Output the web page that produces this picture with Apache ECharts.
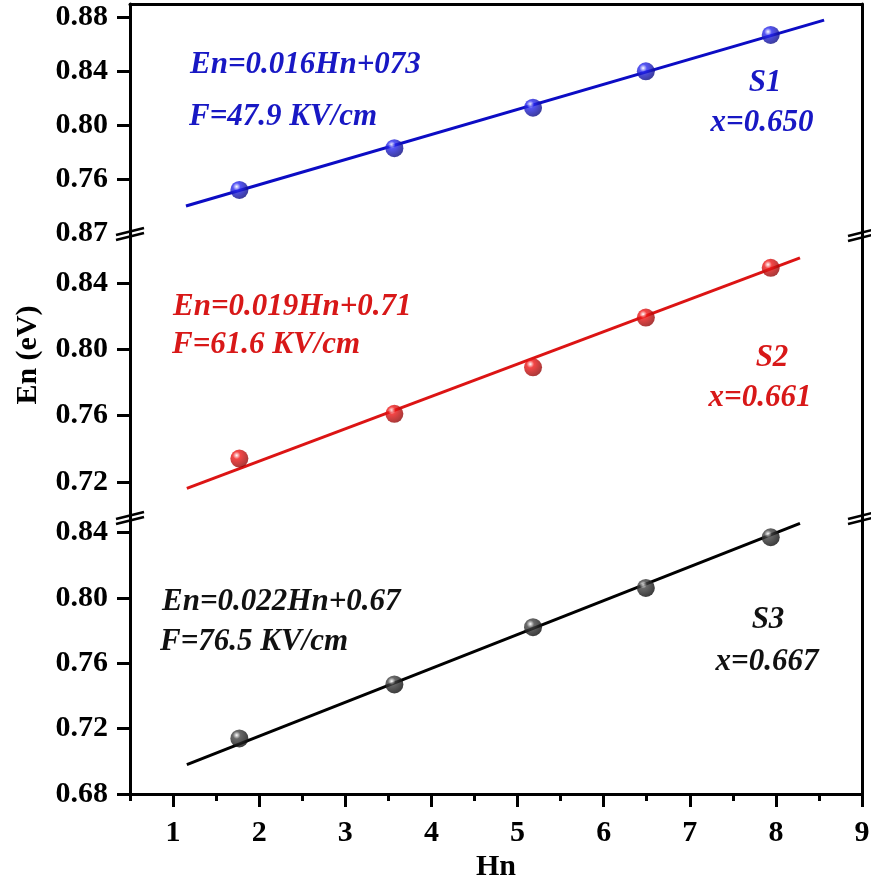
<!DOCTYPE html>
<html>
<head>
<meta charset="utf-8">
<script src="https://cdn.jsdelivr.net/npm/echarts@6/dist/echarts.min.js"></script>
<style>
html,body{margin:0;padding:0;background:#fff;}
#chart{width:871px;height:883px;}
</style>
</head>
<body>
<div id="chart"></div>
<script>
// ---------- data ----------
const xTicks = [1, 2, 3, 4, 5, 6, 7, 8, 9];
const xMinorTicks = [0.5, 1.5, 2.5, 3.5, 4.5, 5.5, 6.5, 7.5, 8.5];
const hn = [1.77, 3.57, 5.18, 6.49, 7.94];

const s1En = [0.752, 0.783, 0.813, 0.840, 0.867];
const s2En = [0.734, 0.761, 0.789, 0.819, 0.849];
const s3En = [0.714, 0.747, 0.782, 0.806, 0.837];

const s1FitX = [1.15, 8.56];
const s1FitY = [0.740, 0.878];
const s2FitX = [1.16, 8.28];
const s2FitY = [0.716, 0.855];
const s3FitX = [1.16, 8.28];
const s3FitY = [0.698, 0.8455];

const y1Range = [0.72, 0.89];
const y2Range = [0.70, 0.87];
const y3Range = [0.68, 0.85];
const y1Ticks = [0.76, 0.80, 0.84, 0.88];
const y2Ticks = [0.72, 0.76, 0.80, 0.84];
const y2Labels = [0.72, 0.76, 0.80, 0.84, 0.87];
const y3Ticks = [0.68, 0.72, 0.76, 0.80, 0.84];

const notes = [
  {text: 'En=0.016Hn+073', color: '#1818c4'},
  {text: 'F=47.9 KV/cm', color: '#1818c4'},
  {text: 'S1', color: '#1818c4'},
  {text: 'x=0.650', color: '#1818c4'},
  {text: 'En=0.019Hn+0.71', color: '#d81818'},
  {text: 'F=61.6 KV/cm', color: '#d81818'},
  {text: 'S2', color: '#d81818'},
  {text: 'x=0.661', color: '#d81818'},
  {text: 'En=0.022Hn+0.67', color: '#111111'},
  {text: 'F=76.5 KV/cm', color: '#111111'},
  {text: 'S3', color: '#111111'},
  {text: 'x=0.667', color: '#111111'}
];

// ---------- layout / style ----------
const FONT = '"Liberation Serif", "Times New Roman", serif';
const L = 130, R = 9;
const grids = [
  {left: L, right: R, top: 4, height: 229, outerBoundsMode: 'none'},
  {left: L, right: R, top: 233, height: 282, outerBoundsMode: 'none'},
  {left: L, right: R, top: 516, height: 278, outerBoundsMode: 'none'}
];
const noteLayout = [
  [190, 65, 'left'], [189, 117, 'left'], [765, 83, 'center'], [762, 123, 'center'],
  [173, 307, 'left'], [172, 345, 'left'], [772, 358, 'center'], [760, 398, 'center'],
  [162, 602, 'left'], [160, 642, 'left'], [768, 620, 'center'], [767, 662, 'center']
];

const axisLineStyle = {color: '#000', width: 3};
const labelStyle = {color: '#000', fontFamily: FONT, fontWeight: 'bold', fontSize: 30};
const fmt = v => Number(v).toFixed(2);

function leftY(gi, range, ticks, labels) {
  return {
    type: 'value', gridIndex: gi, position: 'left', min: range[0], max: range[1],
    axisLine: {show: true, onZero: false, lineStyle: axisLineStyle},
    axisTick: {show: true, inside: false, length: 13, lineStyle: {color: '#000', width: 3}, customValues: ticks},
    axisLabel: Object.assign({show: true, margin: 22, formatter: fmt, customValues: labels || ticks}, labelStyle),
    splitLine: {show: false}
  };
}
function rightY(gi, range) {
  return {
    type: 'value', gridIndex: gi, position: 'right', min: range[0], max: range[1],
    axisLine: {show: true, onZero: false, lineStyle: axisLineStyle},
    axisTick: {show: false}, axisLabel: {show: false}, splitLine: {show: false}
  };
}
function sphere(base, dark) {
  return {
    type: 'radial', x: 0.35, y: 0.32, r: 0.75,
    colorStops: [
      {offset: 0, color: '#ffffff'},
      {offset: 0.28, color: base},
      {offset: 1, color: dark}
    ]
  };
}
function pairs(xs, ys) { return xs.map((x, i) => [x, ys[i]]); }

function breakMark(cx, cy) {
  return {
    type: 'group', x: cx, y: cy, z: 100,
    children: [
      {type: 'polygon', shape: {points: [[-14, 0], [14, -7], [14, -2], [-14, 5]]}, style: {fill: '#fff'}},
      {type: 'line', shape: {x1: -14, y1: 0, x2: 14, y2: -7}, style: {stroke: '#000', lineWidth: 2.5}},
      {type: 'line', shape: {x1: -14, y1: 5, x2: 14, y2: -2}, style: {stroke: '#000', lineWidth: 2.5}}
    ]
  };
}

const graphics = notes.map((n, i) => ({
  type: 'text', x: noteLayout[i][0], y: noteLayout[i][1], z: 50,
  style: {
    text: n.text, fill: n.color, align: noteLayout[i][2], verticalAlign: 'middle',
    font: 'italic bold 31px ' + FONT
  }
}));
graphics.push({
  type: 'text', x: 28, y: 355, rotation: Math.PI / 2, z: 50,
  style: {text: 'En (eV)', fill: '#000', align: 'center', verticalAlign: 'middle', font: 'bold 30px ' + FONT}
});
graphics.push(breakMark(L, 235), breakMark(871 - R, 236), breakMark(L, 519), breakMark(871 - R, 519));

const option = {
  animation: false,
  backgroundColor: '#fff',
  grid: grids,
  xAxis: [
    {type: 'value', gridIndex: 0, position: 'top', min: 0.5, max: 9,
     axisLine: {show: true, onZero: false, lineStyle: axisLineStyle},
     axisTick: {show: false}, axisLabel: {show: false}, splitLine: {show: false}},
    {type: 'value', gridIndex: 1, min: 0.5, max: 9, show: false, axisLine: {onZero: false}, splitLine: {show: false}},
    {type: 'value', gridIndex: 2, position: 'bottom', min: 0.5, max: 9,
     axisLine: {show: true, onZero: false, lineStyle: axisLineStyle},
     axisTick: {show: true, inside: false, length: 13, lineStyle: {color: '#000', width: 3}, customValues: xTicks},
     axisLabel: Object.assign({show: true, margin: 24, customValues: xTicks}, labelStyle),
     splitLine: {show: false},
     name: 'Hn', nameLocation: 'middle', nameGap: 58,
     nameTextStyle: {color: '#000', fontFamily: FONT, fontWeight: 'bold', fontSize: 30}},
    {type: 'value', gridIndex: 2, position: 'bottom', min: 0.5, max: 9,
     axisLine: {show: false, onZero: false},
     axisTick: {show: true, inside: false, length: 7, lineStyle: {color: '#000', width: 3}, customValues: xMinorTicks},
     axisLabel: {show: false}, splitLine: {show: false}}
  ],
  yAxis: [
    leftY(0, y1Range, y1Ticks),
    leftY(1, y2Range, y2Ticks, y2Labels),
    leftY(2, y3Range, y3Ticks),
    rightY(0, y1Range),
    rightY(1, y2Range),
    rightY(2, y3Range)
  ],
  series: [
    {type: 'line', xAxisIndex: 0, yAxisIndex: 0, data: pairs(s1FitX, s1FitY), symbol: 'none',
     lineStyle: {color: '#0c0cc4', width: 3}, z: 2},
    {type: 'scatter', xAxisIndex: 0, yAxisIndex: 0, data: pairs(hn, s1En), symbolSize: 18,
     itemStyle: {color: sphere('#2a2af0', '#08087a')}, z: 3},
    {type: 'line', xAxisIndex: 1, yAxisIndex: 1, data: pairs(s2FitX, s2FitY), symbol: 'none',
     lineStyle: {color: '#dc1414', width: 3}, z: 2},
    {type: 'scatter', xAxisIndex: 1, yAxisIndex: 1, data: pairs(hn, s2En), symbolSize: 18,
     itemStyle: {color: sphere('#f01818', '#8a0606')}, z: 3},
    {type: 'line', xAxisIndex: 2, yAxisIndex: 2, data: pairs(s3FitX, s3FitY), symbol: 'none',
     lineStyle: {color: '#000', width: 3}, z: 2},
    {type: 'scatter', xAxisIndex: 2, yAxisIndex: 2, data: pairs(hn, s3En), symbolSize: 18,
     itemStyle: {color: sphere('#444444', '#050505')}, z: 3}
  ],
  graphic: graphics
};

const chart = echarts.init(document.getElementById('chart'), null, {renderer: 'canvas'});
chart.setOption(option);
</script>
</body>
</html>
